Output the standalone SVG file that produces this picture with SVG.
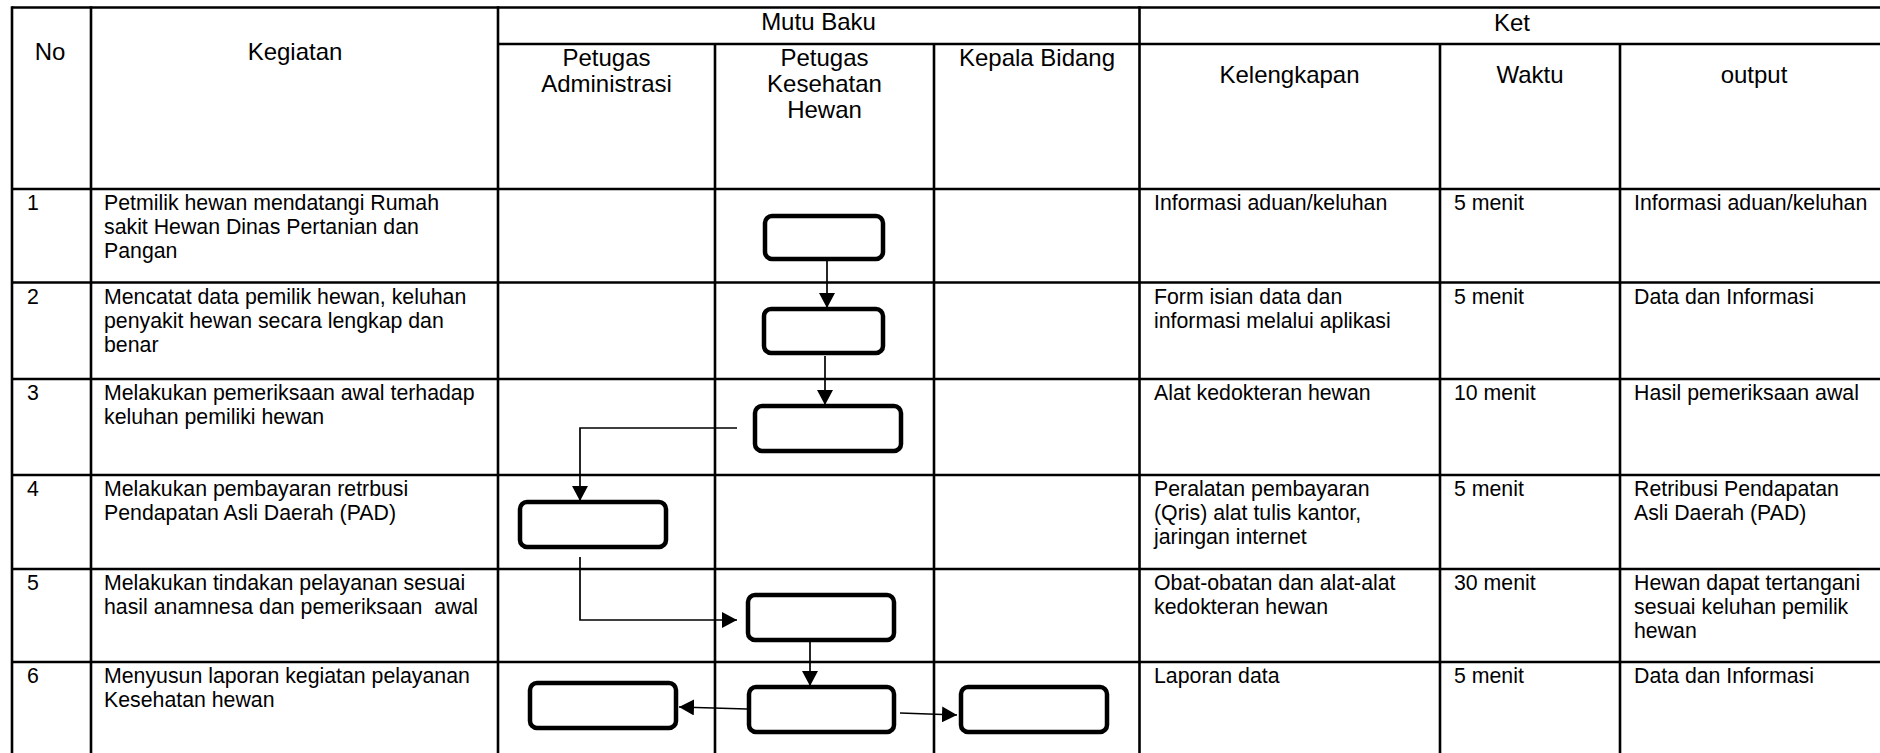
<svg xmlns="http://www.w3.org/2000/svg" width="1880" height="753" viewBox="0 0 1880 753">
<style>
  .grid { stroke: #000; stroke-width: 2.6; fill: none; }
  .hdr { font-family: "Liberation Sans", Arial, sans-serif; font-size: 24px; fill: #000; text-anchor: middle; }
  .txt { font-family: "Liberation Sans", Arial, sans-serif; font-size: 21.3px; fill: #000; white-space: pre; }
  .box { fill: #fff; stroke: #000; stroke-width: 4.5; }
  .conn { fill: none; stroke: #000; stroke-width: 1.7; }
</style>
<defs>
  <marker id="arr" markerUnits="userSpaceOnUse" markerWidth="16" markerHeight="16" refX="15" refY="8" orient="auto">
    <path d="M0,0 L15,8 L0,16 Z" fill="#000"/>
  </marker>
</defs>
<rect width="1880" height="753" fill="#fff"/>

<g id="table">
  <line class="grid" x1="12" y1="7.5" x2="1880" y2="7.5"/>
  <line class="grid" x1="498" y1="44" x2="1880" y2="44"/>
  <line class="grid" x1="12" y1="189" x2="1880" y2="189"/>
  <line class="grid" x1="12" y1="282.5" x2="1880" y2="282.5"/>
  <line class="grid" x1="12" y1="379" x2="1880" y2="379"/>
  <line class="grid" x1="12" y1="475" x2="1880" y2="475"/>
  <line class="grid" x1="12" y1="569" x2="1880" y2="569"/>
  <line class="grid" x1="12" y1="662" x2="1880" y2="662"/>
  <line class="grid" x1="12" y1="6.2" x2="12" y2="753"/>
  <line class="grid" x1="91" y1="6.2" x2="91" y2="753"/>
  <line class="grid" x1="498" y1="6.2" x2="498" y2="753"/>
  <line class="grid" x1="715" y1="44" x2="715" y2="753"/>
  <line class="grid" x1="934" y1="44" x2="934" y2="753"/>
  <line class="grid" x1="1139.5" y1="6.2" x2="1139.5" y2="753"/>
  <line class="grid" x1="1440" y1="44" x2="1440" y2="753"/>
  <line class="grid" x1="1620" y1="44" x2="1620" y2="753"/>
</g>

<g id="header">
  <text class="hdr" x="50" y="60">No</text>
  <text class="hdr" x="295" y="60">Kegiatan</text>
  <text class="hdr" x="818.5" y="30">Mutu Baku</text>
  <text class="hdr" x="1512" y="31">Ket</text>
  <text class="hdr" x="606.5" y="66">Petugas</text>
  <text class="hdr" x="606.5" y="92">Administrasi</text>
  <text class="hdr" x="824.5" y="66">Petugas</text>
  <text class="hdr" x="824.5" y="92">Kesehatan</text>
  <text class="hdr" x="824.5" y="118">Hewan</text>
  <text class="hdr" x="1037" y="66">Kepala Bidang</text>
  <text class="hdr" x="1289.5" y="83">Kelengkapan</text>
  <text class="hdr" x="1530" y="83">Waktu</text>
  <text class="hdr" x="1754" y="83">output</text>
</g>

<g id="row1">
  <text class="txt" x="27" y="210">1</text>
  <text class="txt" x="104" y="210">Petmilik hewan mendatangi Rumah</text>
  <text class="txt" x="104" y="234">sakit Hewan Dinas Pertanian dan</text>
  <text class="txt" x="104" y="258">Pangan</text>
  <text class="txt" x="1154" y="210">Informasi aduan/keluhan</text>
  <text class="txt" x="1454" y="210">5 menit</text>
  <text class="txt" x="1634" y="210">Informasi aduan/keluhan</text>
</g>
<g id="row2">
  <text class="txt" x="27" y="304">2</text>
  <text class="txt" x="104" y="304">Mencatat data pemilik hewan, keluhan</text>
  <text class="txt" x="104" y="328">penyakit hewan secara lengkap dan</text>
  <text class="txt" x="104" y="352">benar</text>
  <text class="txt" x="1154" y="304">Form isian data dan</text>
  <text class="txt" x="1154" y="328">informasi melalui aplikasi</text>
  <text class="txt" x="1454" y="304">5 menit</text>
  <text class="txt" x="1634" y="304">Data dan Informasi</text>
</g>
<g id="row3">
  <text class="txt" x="27" y="400">3</text>
  <text class="txt" x="104" y="400">Melakukan pemeriksaan awal terhadap</text>
  <text class="txt" x="104" y="424">keluhan pemiliki hewan</text>
  <text class="txt" x="1154" y="400">Alat kedokteran hewan</text>
  <text class="txt" x="1454" y="400">10 menit</text>
  <text class="txt" x="1634" y="400">Hasil pemeriksaan awal</text>
</g>
<g id="row4">
  <text class="txt" x="27" y="496">4</text>
  <text class="txt" x="104" y="496">Melakukan pembayaran retrbusi</text>
  <text class="txt" x="104" y="520">Pendapatan Asli Daerah (PAD)</text>
  <text class="txt" x="1154" y="496">Peralatan pembayaran</text>
  <text class="txt" x="1154" y="520">(Qris) alat tulis kantor,</text>
  <text class="txt" x="1154" y="544">jaringan internet</text>
  <text class="txt" x="1454" y="496">5 menit</text>
  <text class="txt" x="1634" y="496">Retribusi Pendapatan</text>
  <text class="txt" x="1634" y="520">Asli Daerah (PAD)</text>
</g>
<g id="row5">
  <text class="txt" x="27" y="590">5</text>
  <text class="txt" x="104" y="590">Melakukan tindakan pelayanan sesuai</text>
  <text class="txt" x="104" y="614">hasil anamnesa dan pemeriksaan  awal</text>
  <text class="txt" x="1154" y="590">Obat-obatan dan alat-alat</text>
  <text class="txt" x="1154" y="614">kedokteran hewan</text>
  <text class="txt" x="1454" y="590">30 menit</text>
  <text class="txt" x="1634" y="590">Hewan dapat tertangani</text>
  <text class="txt" x="1634" y="614">sesuai keluhan pemilik</text>
  <text class="txt" x="1634" y="638">hewan</text>
</g>
<g id="row6">
  <text class="txt" x="27" y="683">6</text>
  <text class="txt" x="104" y="683">Menyusun laporan kegiatan pelayanan</text>
  <text class="txt" x="104" y="707">Kesehatan hewan</text>
  <text class="txt" x="1154" y="683">Laporan data</text>
  <text class="txt" x="1454" y="683">5 menit</text>
  <text class="txt" x="1634" y="683">Data dan Informasi</text>
</g>

<g id="connectors">
  <line class="conn" x1="827" y1="259" x2="827" y2="308" marker-end="url(#arr)"/>
  <line class="conn" x1="825" y1="356" x2="825" y2="405" marker-end="url(#arr)"/>
  <polyline class="conn" points="737,428 580,428 580,501" marker-end="url(#arr)"/>
  <polyline class="conn" points="580,557 580,620 737,620" marker-end="url(#arr)"/>
  <line class="conn" x1="810" y1="640" x2="810" y2="686" marker-end="url(#arr)"/>
  <line class="conn" x1="747" y1="709" x2="679" y2="707" marker-end="url(#arr)"/>
  <line class="conn" x1="900" y1="713" x2="957" y2="715" marker-end="url(#arr)"/>
</g>

<g id="node1"><rect class="box" x="765" y="216" width="118" height="43" rx="7"/></g>
<g id="node2"><rect class="box" x="764" y="309" width="119" height="44" rx="7"/></g>
<g id="node3"><rect class="box" x="755" y="406" width="146" height="45" rx="7"/></g>
<g id="node4"><rect class="box" x="520" y="502" width="146" height="45" rx="7"/></g>
<g id="node5"><rect class="box" x="748" y="595" width="146" height="45" rx="7"/></g>
<g id="node6"><rect class="box" x="749" y="687" width="145" height="45" rx="7"/></g>
<g id="node7"><rect class="box" x="530" y="683" width="146" height="45" rx="7"/></g>
<g id="node8"><rect class="box" x="961" y="687" width="146" height="45" rx="7"/></g>
</svg>
